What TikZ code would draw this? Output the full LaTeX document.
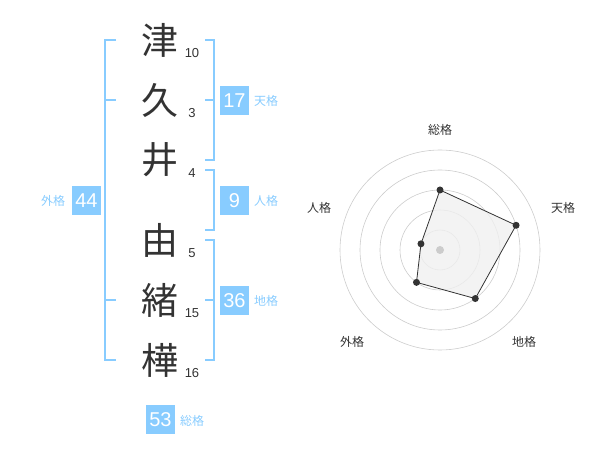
\documentclass[tikz,border=0pt]{standalone}
\usepackage{fontspec}
\setmainfont{Liberation Sans}
\newfontfamily\jp{Noto Sans CJK JP}
\definecolor{kaku}{HTML}{88CCFF}
\definecolor{ink}{HTML}{333333}
\definecolor{ring}{HTML}{CCCCCC}
\definecolor{area}{HTML}{F0F0F0}

\begin{document}
\begin{tikzpicture}[x=1pt,y=-1pt,
    kanji/.style={text=ink,font=\jp\fontsize{37}{37}\selectfont},
    kaku/.style={text=ink,font=\fontsize{13}{13}\selectfont},
    box/.style={fill=kaku,text=white,minimum size=29pt,inner sep=0pt,font=\fontsize{20}{20}\selectfont},
    tag/.style={text=kaku,font=\jp\fontsize{12}{12}\selectfont},
    brace/.style={draw=kaku,line width=2pt},
    axis/.style={text=ink,font=\jp\fontsize{12}{12}\selectfont}]
    \useasboundingbox (0,0) rectangle (600,470);

    % Nodes for the name
    \node[kanji] (k1) at (160,40) {津};
    \node[kanji] (k2) at (160,100) {久};
    \node[kanji] (k3) at (160,160) {井};
    \node[kanji] (k4) at (160,240) {由};
    \node[kanji] (k5) at (160,300) {緒};
    \node[kanji] (k6) at (160,360) {樺};

    % Stroke counts
    \node[kaku] (n1) at (192,53) {10};
    \node[kaku] (n2) at (192,113) {3};
    \node[kaku] (n3) at (192,173) {4};
    \node[kaku] (n4) at (192,253) {5};
    \node[kaku] (n5) at (192,313) {15};
    \node[kaku] (n6) at (192,373) {16};

    % Brackets
    \draw[brace] (116,40) -- (105,40) -- (105,360) -- (116,360);
    \draw[brace] (105,100) -- (116,100);
    \draw[brace] (105,300) -- (116,300);
    \draw[brace] (205,40) -- (214,40) -- (214,160) -- (205,160);
    \draw[brace] (205,100) -- (214,100);
    \draw[brace] (205,170) -- (214,170) -- (214,230) -- (205,230);
    \draw[brace] (205,240) -- (214,240) -- (214,360) -- (205,360);
    \draw[brace] (205,300) -- (214,300);

    % Boxes and labels
    \node[box] (ten) at (234.5,100.5) {17};
    \node[tag] (tenT) at (266,101) {天格};
    \node[box] (jin) at (234.5,200.5) {9};
    \node[tag] (jinT) at (266,201) {人格};
    \node[box] (chi) at (234.5,300.5) {36};
    \node[tag] (chiT) at (266,301) {地格};
    \node[box] (gai) at (86.5,200.5) {44};
    \node[tag] (gaiT) at (53,201) {外格};
    \node[box] (sou) at (160.5,419.5) {53};
    \node[tag] (souT) at (192,421) {総格};

    % Radar chart
    \begin{scope}[shift={(440,250)},y=1pt]
        \foreach \r in {20,40,60,80,100}
            \draw[ring,line width=0.6pt] (0,0) circle (\r);
        \coordinate (pS) at (90:60);
        \coordinate (pT) at (18:80);
        \coordinate (pC) at (-54:60);
        \coordinate (pG) at (-126:40);
        \coordinate (pJ) at (162:20);
        \draw[ink,fill=area,fill opacity=0.8,line width=0.8pt] (pS) -- (pT) -- (pC) -- (pG) -- (pJ) -- cycle;
        \fill[ring] (0,0) circle (4);
        \foreach \p in {pS,pT,pC,pG,pJ}
            \fill[ink] (\p) circle (3.5);
    \end{scope}
    \node[axis] (aS) at (440,130) {総格};
    \node[axis] (aT) at (563,208) {天格};
    \node[axis] (aC) at (524,342) {地格};
    \node[axis] (aG) at (352,342) {外格};
    \node[axis] (aJ) at (319,208) {人格};
\end{tikzpicture}
\end{document}
